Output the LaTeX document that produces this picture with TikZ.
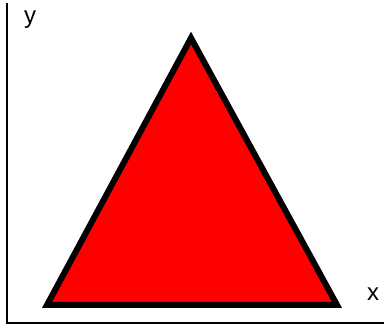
\documentclass[tikz,border=0pt]{standalone}
\usepackage{fontspec}
\setmainfont{Liberation Sans}
\usepackage{xcolor}

\begin{document}
\begin{tikzpicture}[x=1pt,y=-1pt]
 \useasboundingbox (0,0) rectangle (384,329);
 \begin{scope}
  \coordinate (O) at (7,323);
  \coordinate (Y) at (7,3);
  \coordinate (X) at (384,323);
  \draw[line width=2pt] (Y)--(O)--(X);
  \node (ylab) at (30,20) {\fontsize{24}{28}\selectfont y};
  \node (xlab) at (373,294) {\fontsize{24}{28}\selectfont x};
 \end{scope}
 \begin{scope}
  \coordinate (A) at (47,305);
  \coordinate (B) at (337,305);
  \coordinate (C) at (191,38);
  \filldraw[fill=red,line width=6pt,miter limit=10] (A)--(B)--(C)--cycle;
 \end{scope}
\end{tikzpicture}
\end{document}
